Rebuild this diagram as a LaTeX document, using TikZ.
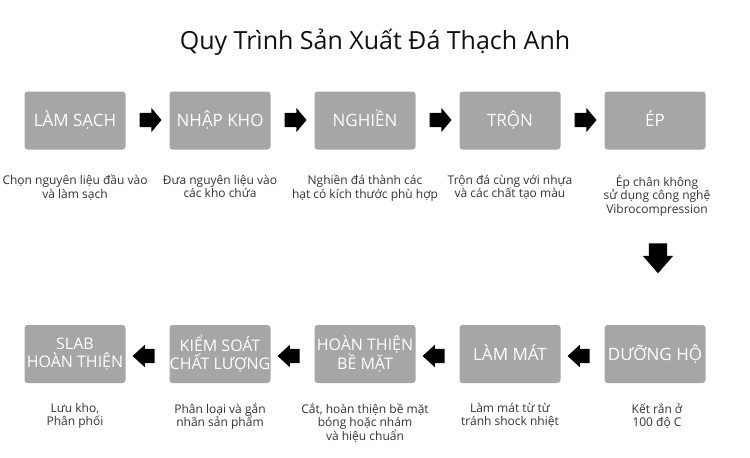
\documentclass[tikz,border=0pt]{standalone}
\usepackage{fontspec}
\setmainfont{Open Sans}
\usetikzlibrary{shapes.arrows,calc}
\definecolor{boxgray}{HTML}{A6A6A6}
\definecolor{desccol}{HTML}{333333}
\definecolor{titlecol}{HTML}{111111}
\begin{document}
\begin{tikzpicture}[x=1pt,y=-1pt,
  stepbox/.style={fill=boxgray, rounded corners=3pt, minimum width=101pt, minimum height=58pt,
    text=white, font=\fontsize{16}{18}\selectfont, align=center, inner sep=0pt},
  bigtext/.style={font=\fontsize{17}{19}\selectfont, text height=13.5pt, text depth=1.5pt},
  desc/.style={text=desccol, font=\fontsize{12}{13.5}\selectfont, align=center, anchor=north, inner sep=0pt},
  arr/.style={single arrow, fill=black, draw=none, single arrow head indent=0pt},
  rarr/.style={arr, inner xsep=0pt, inner ysep=7pt, minimum height=22pt, single arrow head extend=5pt, single arrow tip angle=100, shape border rotate=0},
  larr/.style={arr, inner xsep=0pt, inner ysep=7pt, minimum height=22pt, single arrow head extend=4pt, single arrow tip angle=85, shape border rotate=180},
  darr/.style={arr, inner xsep=9pt, inner ysep=0pt, minimum height=30pt, single arrow head extend=6pt, single arrow tip angle=82, shape border rotate=270}
]
\useasboundingbox[fill=white] (0,0) rectangle (750,458);

\node[text=titlecol, font=\fontsize{25}{28}\selectfont] (title) at (375,42) {Quy Trình Sản Xuất Đá Thạch Anh};

% top row
\node[stepbox, bigtext] (a1) at (75,120.5) {LÀM SẠCH};
\node[stepbox, bigtext] (a2) at (220,120.5) {NHẬP KHO};
\node[stepbox, bigtext] (a3) at (365,120.5) {NGHIỀN};
\node[stepbox, bigtext] (a4) at (510,120.5) {TRỘN};
\node[stepbox, bigtext] (a5) at (655,120.5) {ÉP};

% bottom row
\node[stepbox, bigtext] (b1) at (655,354) {DƯỠNG HỘ};
\node[stepbox, bigtext] (b2) at (510,354) {LÀM MÁT};
\node[stepbox] (b3) at (365,354) {HOÀN THIỆN\\BỀ MẶT};
\node[stepbox] (b4) at (220,354) {KIỂM SOÁT\\CHẤT LƯỢNG};
\node[stepbox] (b5) at (75,354) {SLAB\\HOÀN THIỆN};

% arrows
\node[rarr] (r1) at ($(a1)!0.5!(a2)+(0,-0.5)$) {};
\node[rarr] (r2) at ($(a2)!0.5!(a3)+(0,-0.5)$) {};
\node[rarr] (r3) at ($(a3)!0.5!(a4)+(0,-0.5)$) {};
\node[rarr] (r4) at ($(a4)!0.5!(a5)+(0,-0.5)$) {};
\node[darr] (dn) at (658,253) {};
\node[larr] (l1) at ($(b1)!0.5!(b2)+(0,2)$) {};
\node[larr] (l2) at ($(b2)!0.5!(b3)+(0,2)$) {};
\node[larr] (l3) at ($(b3)!0.5!(b4)+(0,2)$) {};
\node[larr] (l4) at ($(b4)!0.5!(b5)+(0,2)$) {};

% descriptions
\node[desc] (d1) at (75,175) {Chọn nguyên liệu đầu vào\\và làm sạch};
\node[desc] (d2) at (220,175) {Đưa nguyên liệu vào\\các kho chứa};
\node[desc] (d3) at (365,175) {Nghiền đá thành các\\hạt có kích thước phù hợp};
\node[desc] (d4) at (510,175) {Trộn đá cùng với nhựa\\và các chất tạo màu};
\node[desc] (d5) at (657,175) {Ép chân không\\sử dụng công nghệ\\Vibrocompression};

\node[desc] (e1) at (657,403) {Kết rắn ở\\100 độ C};
\node[desc] (e2) at (510,403) {Làm mát từ từ\\tránh shock nhiệt};
\node[desc] (e3) at (365,403) {Cắt, hoàn thiện bề mặt\\bóng hoặc nhám\\và hiệu chuẩn};
\node[desc] (e4) at (220,403) {Phân loại và gắn\\nhãn sản phẩm};
\node[desc] (e5) at (75,403) {Lưu kho,\\Phân phối};
\end{tikzpicture}
\end{document}
